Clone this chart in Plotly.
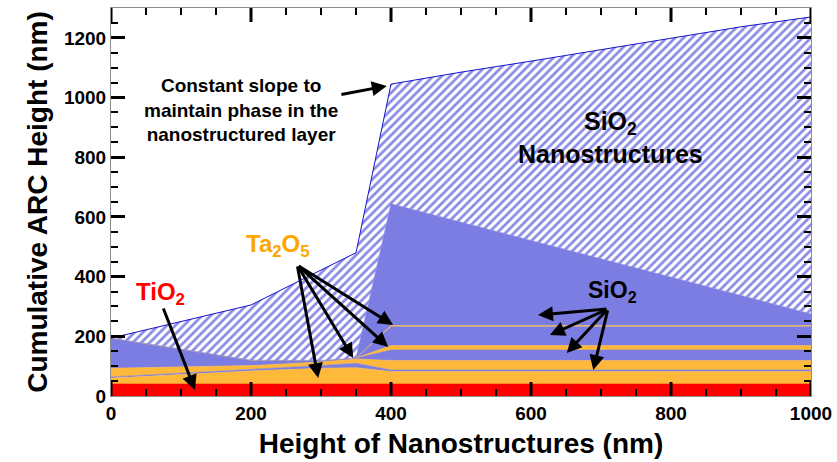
import plotly.graph_objects as go

# ---- data (cumulative layer tops, nm) ----
x_nm = [0, 100, 200, 300, 350, 400, 500, 600, 700, 800, 900, 1000]

tio2_top    = [40, 40, 40, 40, 40, 40, 40, 40, 40, 40, 40, 40]
ta2o5_1_top = [60, 72, 84, 93, 95, 82, 82, 82, 82, 82, 82, 82]
sio2_1_top  = [64, 76, 90, 102, 110, 87, 87, 87, 87, 87, 87, 87]
ta2o5_2_top = [93, 97, 102, 114, 124, 119, 119, 119, 119, 119, 119, 119]
sio2_2_top  = [194, 157, 120, 119, 127, 154, 154, 154, 154, 154, 154, 154]
ta2o5_3_top = [194, 157, 120, 119, 127, 169, 169, 169, 169, 169, 169, 169]
sio2_3_top  = [194, 157, 120, 119, 127, 232, 232, 232, 232, 232, 232, 232]
ta2o5_4_top = [194, 157, 120, 119, 127, 236, 236, 236, 236, 236, 236, 236]
sio2_4_top  = [194, 157, 120, 119, 127, 644, 583, 521, 460, 398, 337, 275]
nano_top    = [194, 250, 305, 422, 480, 1045, 1085, 1122, 1160, 1200, 1237, 1270]

x_ticks = [0, 200, 400, 600, 800, 1000]
x_minor_ticks = [50, 100, 150, 250, 300, 350, 450, 500, 550,
                 650, 700, 750, 850, 900, 950]

RED = "#ff0000"
ORANGE = "#ffb93a"
BLUE = "#7b7de2"
HATCH = "#1414cc"
FONT = "Arial, Liberation Sans, sans-serif"

Y_MAX = 1300
PLOT_H = 462 - 8 - 66          # plot height in px
NM_PER_PX = Y_MAX / PLOT_H      # to express tick lengths in y units

layers = [
    (tio2_top, RED),
    (ta2o5_1_top, ORANGE),
    (sio2_1_top, BLUE),
    (ta2o5_2_top, ORANGE),
    (sio2_2_top, BLUE),
    (ta2o5_3_top, ORANGE),
    (sio2_3_top, BLUE),
    (ta2o5_4_top, ORANGE),
    (sio2_4_top, BLUE),
]

fig = go.Figure()
for i, (tops, col) in enumerate(layers):
    fig.add_trace(go.Scatter(
        x=x_nm, y=tops, mode="lines",
        line=dict(color=col, width=0.6),
        fill="tozeroy" if i == 0 else "tonexty",
        fillcolor=col, hoverinfo="skip", showlegend=False))

fig.add_trace(go.Scatter(
    x=x_nm, y=nano_top, mode="lines",
    line=dict(color=HATCH, width=1),
    fill="tonexty",
    fillpattern=dict(shape="/", fgcolor=HATCH, bgcolor="white", size=6, solidity=0.45),
    hoverinfo="skip", showlegend=False))

# x-axis tick marks (inside, bottom and top), built from the tick value lists
for vals, length_px, width in [(x_ticks, 14, 3), (x_minor_ticks, 7, 2)]:
    L = length_px * NM_PER_PX
    tx, ty = [], []
    for v in vals:
        tx += [v, v, None, v, v, None]
        ty += [0, L, None, Y_MAX - L, Y_MAX, None]
    fig.add_trace(go.Scatter(x=tx, y=ty, mode="lines",
                             line=dict(color="black", width=width),
                             hoverinfo="skip", showlegend=False, cliponaxis=False))

def arrow(tip, tail):
    return dict(x=tip[0], y=tip[1], ax=tail[0], ay=tail[1],
                xref="x", yref="y", axref="x", ayref="y",
                text="", showarrow=True, arrowhead=2, arrowsize=1,
                arrowwidth=3, arrowcolor="black", standoff=0, startstandoff=0)

ann = []
ann.append(dict(x=186, y=959, xref="x", yref="y", showarrow=False,
                text="<b>Constant slope to<br>maintain phase in the<br>nanostructured layer</b>",
                font=dict(family=FONT, size=19, color="black"), align="center"))
ann.append(arrow((394, 1039), (327, 1009)))
ann.append(dict(x=713, y=865, xref="x", yref="y", showarrow=False,
                text="<b>SiO<sub>2</sub><br>Nanostructures</b>",
                font=dict(family=FONT, size=25, color="black"), align="center"))
ann.append(dict(x=71, y=345, xref="x", yref="y", showarrow=False,
                text="<b>TiO<sub>2</sub></b>",
                font=dict(family=FONT, size=24, color=RED)))
ann.append(arrow((120, 20), (74, 298)))
ann.append(dict(x=239, y=503, xref="x", yref="y", showarrow=False,
                text="<b>Ta<sub>2</sub>O<sub>5</sub></b>",
                font=dict(family=FONT, size=24, color="#ffa500")))
for tip in [(296, 60), (346, 127), (396, 164), (403, 238)]:
    ann.append(arrow(tip, (266, 439)))
ann.append(dict(x=716, y=349, xref="x", yref="y", showarrow=False,
                text="<b>SiO<sub>2</sub></b>",
                font=dict(family=FONT, size=23, color="black")))
for tip in [(610, 271), (627, 204), (651, 144), (689, 87)]:
    ann.append(arrow(tip, (710, 292)))

minor_ticks = dict(dtick=50, tick0=0, ticks="inside", ticklen=7, tickwidth=2,
                   tickcolor="black")
tick_font = dict(family=FONT, size=19, color="black", weight="bold")

fig.update_layout(
    width=837, height=462,
    margin=dict(l=111, r=26, t=8, b=66, autoexpand=False),
    paper_bgcolor="white", plot_bgcolor="white",
    annotations=ann,
    xaxis=dict(range=[0, 1000], tickmode="array", tickvals=x_ticks,
               ticks="", showline=True, linecolor="#8c8c8c", linewidth=1,
               mirror=True, showgrid=False, zeroline=False,
               tickfont=tick_font,
               title=dict(text="<b>Height of Nanostructures (nm)</b>",
                          font=dict(family=FONT, size=28, color="black"), standoff=10)),
    yaxis=dict(range=[0, Y_MAX], automargin=False,
               tickmode="linear", tick0=0, dtick=200,
               ticks="inside", ticklen=14, tickwidth=3, tickcolor="black",
               mirror="allticks", showline=True, linecolor="#8c8c8c", linewidth=1,
               showgrid=False, zeroline=False, layer="above traces",
               tickfont=tick_font, minor=minor_ticks,
               title=dict(text="<b>Cumulative ARC Height (nm)</b>",
                          font=dict(family=FONT, size=28, color="black"), standoff=8)),
)

fig.write_html("out.html", config={"displayModeBar": False},
               post_script="document.body.style.margin='0px';")
